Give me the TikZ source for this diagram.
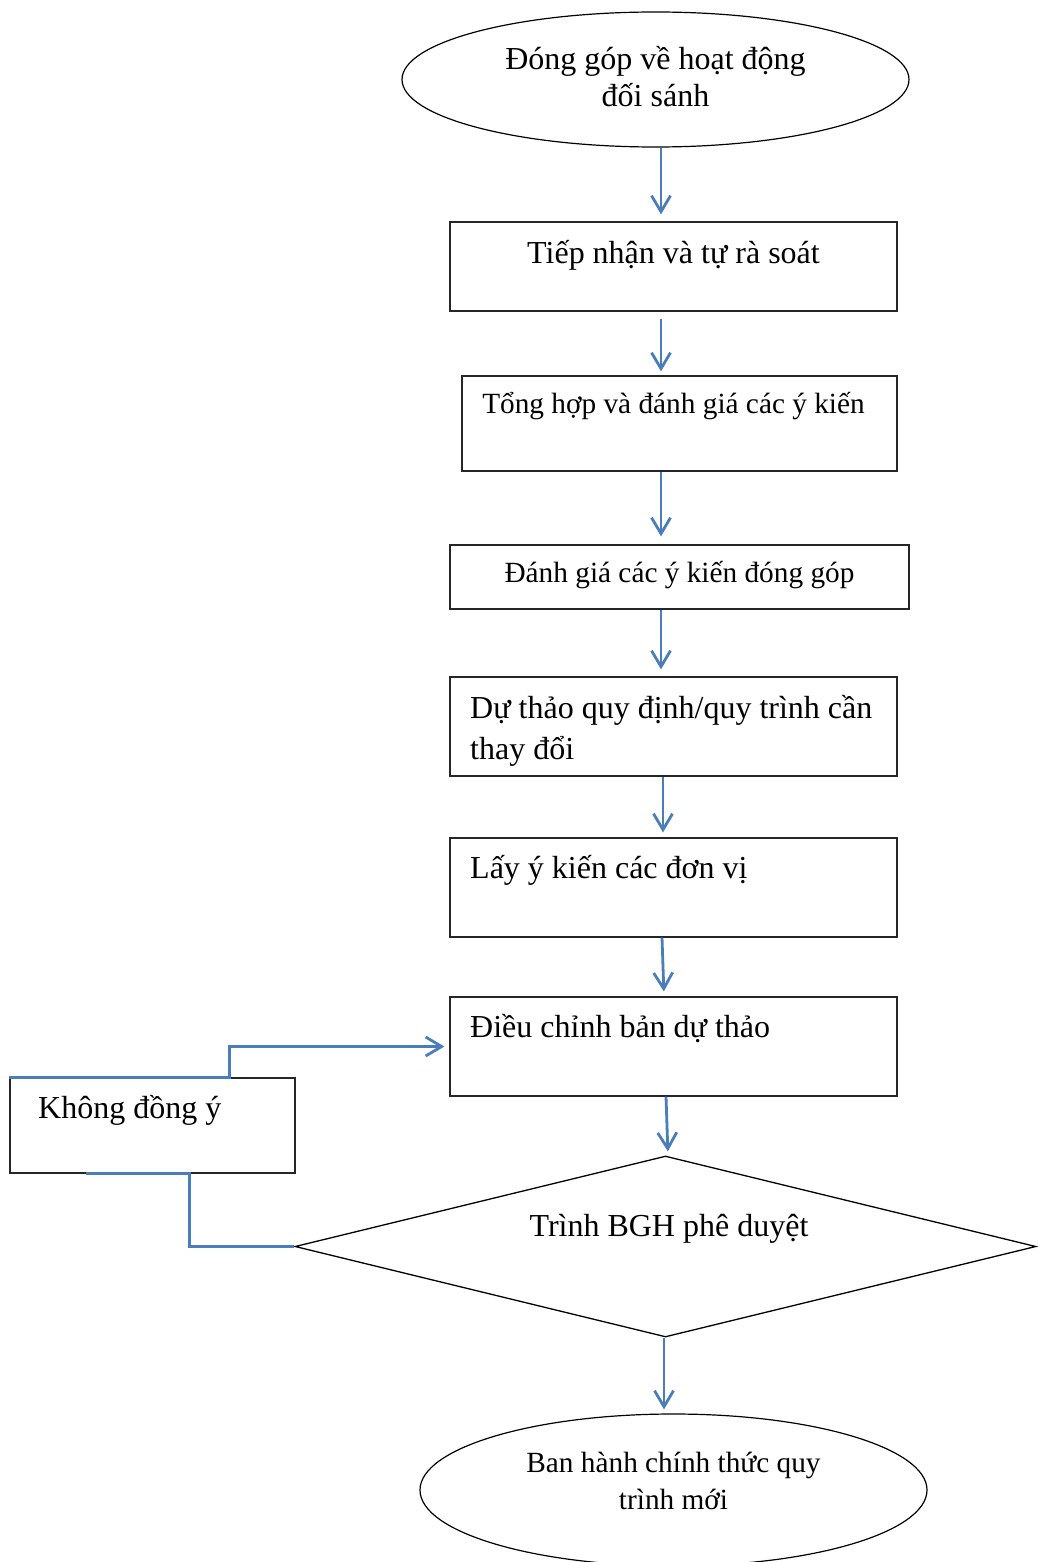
\documentclass[tikz,border=0pt]{standalone}
\usepackage{fontspec}
\setmainfont{Liberation Serif}
\usetikzlibrary{shapes.geometric,arrows.meta}
\definecolor{lnblue}{RGB}{74,126,187}
\begin{document}
\begin{tikzpicture}[x=1pt,y=-1pt,
  box/.style={draw=black!85,line width=1.2pt,rectangle,inner sep=0pt},
  oval/.style={draw=black,line width=1.2pt,ellipse,inner sep=0pt},
  dia/.style={draw=black,line width=1.3pt,diamond,inner sep=0pt},
  txt/.style={inner sep=0pt,font=\fontsize{32}{36}\selectfont},
  stxt/.style={inner sep=0pt,font=\fontsize{29.3}{34}\selectfont},
  arr/.style={draw=lnblue,line width=2.8pt,-{Straight Barb[length=16pt,width=19pt]}},
  fb/.style={draw=lnblue,line width=2.8pt}]
\useasboundingbox (0,0) rectangle (1037,1562);
% shapes
\node[oval,minimum width=507pt,minimum height=135pt] (e1) at (655.5,79.5) {};
\node[box,minimum width=447pt,minimum height=89pt] (b1) at (673.5,266.5) {};
\node[box,minimum width=435pt,minimum height=95pt] (b2) at (679.5,423.5) {};
\node[box,minimum width=459pt,minimum height=64pt] (b3) at (679.5,577) {};
\node[box,minimum width=447pt,minimum height=99pt] (b4) at (673.5,726.5) {};
\node[box,minimum width=447pt,minimum height=99pt] (b5) at (673.5,887.5) {};
\node[box,minimum width=447pt,minimum height=99pt] (b6) at (673.5,1046.5) {};
\node[box,minimum width=285pt,minimum height=95pt] (k) at (152.5,1125.5) {};
\node[dia,minimum width=741pt,minimum height=181pt] (d) at (665.5,1246.5) {};
\node[oval,minimum width=507pt,minimum height=152pt] (e2) at (673.5,1490) {};
% texts
\node[txt,anchor=base] (t1a) at (655.5,69.5) {Đóng góp về hoạt động};
\node[txt,anchor=base] (t1b) at (655.5,107) {đối sánh};
\node[txt,anchor=base] (tb1) at (673.5,263) {Tiếp nhận và tự rà soát};
\node[stxt,anchor=base] (tb2) at (673.5,413.5) {Tổng hợp và đánh giá các ý kiến};
\node[stxt,anchor=base] (tb3) at (679.5,582) {Đánh giá các ý kiến đóng góp};
\node[txt,anchor=base west] (tb4a) at (470,718) {Dự thảo quy định/quy trình cần};
\node[txt,anchor=base west] (tb4b) at (470,759.5) {thay đổi};
\node[txt,anchor=base west] (tb5) at (470,878.5) {Lấy ý kiến các đơn vị};
\node[txt,anchor=base west] (tb6) at (470,1037) {Điều chỉnh bản dự thảo};
\node[txt,anchor=base west] (tk) at (38,1118) {Không đồng ý};
\node[txt,anchor=base] (td) at (669,1236.5) {Trình BGH phê duyệt};
\node[stxt,anchor=base] (te2a) at (673.5,1472) {Ban hành chính thức quy};
\node[stxt,anchor=base] (te2b) at (673.5,1509) {trình mới};
% arrows
\draw[arr,shorten >=7pt] ([xshift=5.5pt]e1.south) -- ([xshift=-12.5pt]b1.north);
\draw[arr,shorten <=7pt,shorten >=4pt] ([xshift=-12.5pt]b1.south) -- ([xshift=-18.5pt]b2.north);
\draw[arr,shorten >=8pt] ([xshift=-18.5pt]b2.south) -- ([xshift=-18.5pt]b3.north);
\draw[arr,shorten >=7pt] ([xshift=-18.5pt]b3.south) -- ([xshift=-12.5pt]b4.north);
\draw[arr,shorten >=5pt] ([xshift=-10.5pt]b4.south) -- ([xshift=-10.5pt]b5.north);
\draw[arr,shorten >=5pt] ([xshift=-11.5pt]b5.south) -- ([xshift=-9.5pt]b6.north);
\draw[arr,shorten >=4pt] ([xshift=-7.5pt]b6.south) -- ([xshift=2.5pt]d.north);
\draw[arr,shorten >=4pt] ([xshift=-1.5pt]d.south) -- ([xshift=-9.5pt]e2.north);
% feedback loop
\draw[fb] (d.west) -| ([xshift=180pt]k.south west) -- ([xshift=77pt]k.south west);
\draw[arr,shorten >=5pt] (k.north west) -- ([xshift=220pt]k.north west) |- (b6.west);
\end{tikzpicture}
\end{document}
